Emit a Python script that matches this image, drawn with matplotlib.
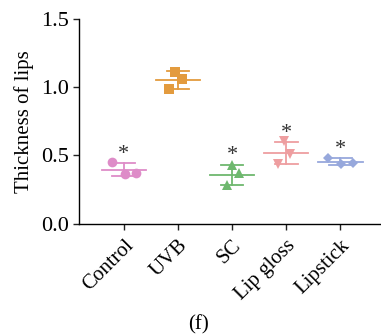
import matplotlib

matplotlib.use("Agg")
import matplotlib.pyplot as plt
import numpy as np

plt.rcParams["font.family"] = ["Liberation Serif", "DejaVu Serif"]

groups = ["Control", "UVB", "SC", "Lip gloss", "Lipstick"]
control = [0.449, 0.364, 0.371]
uvb = [1.110, 1.059, 0.986]
sc = [0.427, 0.368, 0.280]
lip_gloss = [0.602, 0.512, 0.439]
lipstick = [0.483, 0.437, 0.441]
significant = [True, False, True, True, True]

colors = ["#DE8CC8", "#E39B3E", "#6EB86E", "#EE9EA0", "#97A8DC"]
markers = ["o", "s", "^", "v", "D"]
marker_sizes = [7, 7.5, 6.5, 6.5, 5]
# horizontal scatter of the points within each group (axis units)
jitter = [
    [-0.22, 0.02, 0.23],
    [-0.05, 0.07, -0.16],
    [0.0, 0.12, -0.10],
    [-0.04, 0.07, -0.15],
    [-0.22, 0.01, 0.23],
]

data = [control, uvb, sc, lip_gloss, lipstick]

fig = plt.figure(figsize=(3.81, 3.34), dpi=100)
ax = fig.add_axes([0.207, 0.33, 0.793, 0.614])

for i, vals in enumerate(data):
    vals = np.array(vals)
    mean = vals.mean()
    sd = vals.std(ddof=1)
    c = colors[i]
    ax.plot([i - 0.41, i + 0.41], [mean, mean], color=c, lw=1.3, zorder=2)
    ax.plot([i, i], [mean - sd, mean + sd], color=c, lw=1.3, zorder=2)
    for y in (mean - sd, mean + sd):
        ax.plot([i - 0.21, i + 0.21], [y, y], color=c, lw=1.3, zorder=2)
    ax.plot(i + np.array(jitter[i]), vals, linestyle="none", marker=markers[i],
            markersize=marker_sizes[i], color=c, markeredgewidth=0, zorder=3)
    if significant[i]:
        ax.text(i, mean + sd - 0.005, "*", ha="center", va="bottom",
                fontsize=16, color="#333333")

ax.set_xlim(-0.83, 4.75)
ax.set_ylim(0, 1.5)
ax.set_yticks([0.0, 0.5, 1.0, 1.5])
ax.set_yticklabels(["0.0", "0.5", "1.0", "1.5"])
ax.set_xticks(range(len(groups)))
ax.set_xticklabels(groups, rotation=45, ha="right", rotation_mode="anchor")
ax.tick_params(axis="y", labelsize=16, length=4, width=1, color="#222222", pad=3)
ax.tick_params(axis="x", labelsize=15, length=4, width=1, color="#222222", pad=5)
ax.set_ylabel("Thickness of lips", fontsize=15, labelpad=5)

ax.spines["top"].set_visible(False)
ax.spines["right"].set_visible(False)
ax.spines["left"].set_linewidth(1)
ax.spines["bottom"].set_linewidth(1)

fig.text(0.52, 0.0, "(f)", ha="center", va="bottom", fontsize=15)

fig.savefig("out.png", dpi=100)
plt.close(fig)
